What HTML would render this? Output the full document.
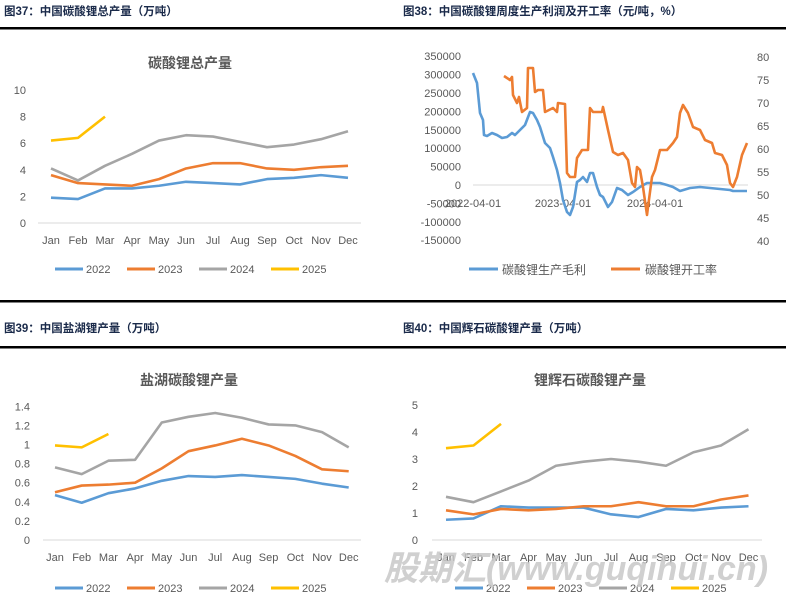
<!DOCTYPE html>
<html><head><meta charset="utf-8"><style>
body{margin:0;background:#fff;width:786px;height:597px;overflow:hidden}
svg{display:block}
text{font-family:"Liberation Sans","Noto Sans CJK SC",sans-serif}
</style></head><body>
<svg id="s" width="786" height="597" xmlns="http://www.w3.org/2000/svg">
<rect width="786" height="597" fill="#fff"/>
<g font-weight="bold" font-size="11.5" fill="#1a2a4a" font-family="'Noto Serif CJK SC','Noto Sans CJK SC',serif">
<text x="4" y="15">图37：中国碳酸锂总产量（万吨）</text>
<text x="403" y="15">图38：中国碳酸锂周度生产利润及开工率（元/吨，%）</text>
<text x="4" y="332">图39：中国盐湖锂产量（万吨）</text>
<text x="403" y="332">图40：中国辉石碳酸锂产量（万吨）</text>
</g>
<rect x="0" y="27" width="786" height="2.5" fill="#000"/>
<rect x="0" y="300" width="786" height="2.5" fill="#000"/>
<rect x="0" y="346" width="786" height="2.5" fill="#000"/>
<g font-weight="bold" font-size="14" fill="#595959" text-anchor="middle">
<text x="190" y="68">碳酸锂总产量</text>
<text x="189" y="385">盐湖碳酸锂产量</text>
<text x="590" y="385">锂辉石碳酸锂产量</text>
</g>
<g id="g"></g>
<text x="576" y="580" text-anchor="middle" font-size="34" font-weight="bold" font-style="italic" fill="#c8c8c8" opacity="0.85" font-family="'Noto Sans CJK SC',sans-serif">股期汇(www.guqihui.cn)</text>
</svg>
<script>
const g=document.getElementById('g');let h='';
const C=['#5b9bd5','#ed7d31','#a5a5a5','#ffc000'];
const M=['Jan','Feb','Mar','Apr','May','Jun','Jul','Aug','Sep','Oct','Nov','Dec'];
function chart(o){
 // grid axis line
 h+=`<line x1="${o.gx1}" x2="${o.gx2}" y1="${o.y0}" y2="${o.y0}" stroke="#d9d9d9" stroke-width="1"/>`;
 for(const t of o.ticks){const y=o.y0-t*o.k;h+=`<text x="${o.lx}" y="${y+4}" font-size="11" fill="#595959" text-anchor="end">${t}</text>`;}
 M.forEach((m,i)=>{h+=`<text x="${o.x0+i*o.dx}" y="${o.y0+21}" font-size="11" fill="#595959" text-anchor="middle">${m}</text>`;});
 o.d.forEach((s,j)=>{h+=`<polyline fill="none" stroke="${C[j]}" stroke-width="2.6" stroke-linejoin="round" points="${s.map((v,i)=>(o.x0+i*o.dx)+','+(o.y0-v*o.k)).join(' ')}"/>`;});
 ['2022','2023','2024','2025'].forEach((n,j)=>{const x=o.legx+j*o.legd;h+=`<line x1="${x}" x2="${x+28}" y1="${o.legy}" y2="${o.legy}" stroke="${C[j]}" stroke-width="3"/><text x="${x+31}" y="${o.legy+4}" font-size="11" fill="#595959">${n}</text>`;});
}
chart({gx1:38,gx2:361,y0:223,k:13.3,lx:26,ticks:[0,2,4,6,8,10],x0:51,dx:27,legx:55,legd:72,legy:269,
 d:[[1.9,1.8,2.6,2.6,2.8,3.1,3.0,2.9,3.3,3.4,3.6,3.4],[3.6,3.0,2.9,2.8,3.3,4.1,4.5,4.5,4.1,4.0,4.2,4.3],[4.1,3.2,4.3,5.2,6.2,6.6,6.5,6.1,5.7,5.9,6.3,6.9],[6.2,6.4,8.0]]});
chart({gx1:43,gx2:361,y0:540,k:95.5,lx:30,ticks:[0,0.2,0.4,0.6,0.8,1,1.2,1.4],x0:55,dx:26.7,legx:55,legd:72,legy:588,
 d:[[.47,.39,.49,.54,.62,.67,.66,.68,.66,.64,.59,.55],[.50,.57,.58,.60,.75,.93,.99,1.06,.99,.88,.74,.72],[.76,.69,.83,.84,1.23,1.29,1.33,1.28,1.21,1.20,1.13,.97],[.99,.97,1.11]]});
chart({gx1:432,gx2:762,y0:540,k:27,lx:418,ticks:[0,1,2,3,4,5],x0:446,dx:27.5,legx:455,legd:72,legy:588,
 d:[[.75,.8,1.25,1.2,1.2,1.2,.95,.85,1.15,1.1,1.2,1.25],[1.1,.95,1.15,1.1,1.15,1.25,1.25,1.4,1.25,1.25,1.5,1.65],[1.6,1.4,1.8,2.2,2.75,2.9,3.0,2.9,2.75,3.25,3.5,4.1],[3.4,3.5,4.3]]});
// chart 2
const y0=185,k=184/500000;
h+=`<line x1="473" x2="748" y1="185" y2="185" stroke="#d9d9d9"/>`;
for(let v=350000;v>=-150000;v-=50000){h+=`<text x="461" y="${y0-v*k+4}" font-size="11" fill="#595959" text-anchor="end">${v}</text>`;}
for(let v=80;v>=40;v-=5){h+=`<text x="757" y="${241-(v-40)*4.6+4}" font-size="11" fill="#595959">${v}</text>`;}
[['2022-04-01',473],['2023-04-01',563],['2024-04-01',655]].forEach(a=>{h+=`<text x="${a[1]}" y="207" font-size="11" fill="#595959" text-anchor="middle">${a[0]}</text>`;});
const B="473,73 477,83 480,113 483,120 484,135 487,136 492,133 497,135 502,138 507,137 512,133 515,135 520,130 525,125 530,112 533,113 537,120 540,127 545,143 550,148 553,157 557,170 560,183 563,200 567,212 570,215 573,207 577,182 580,180 583,177 587,182 590,173 593,173 597,187 600,195 603,197 608,207 612,202 617,188 622,190 628,195 633,192 640,187 647,183 653,183 660,183 667,185 673,187 680,191 690,188 700,187 710,188 720,189 730,190 733,191 747,191";
const O="504,76 510,80 512,77 513,95 517,103 519,97 522,112 527,108 528,68 533,68 535,92 538,90 543,90 545,112 553,108 557,112 558,103 565,104 567,173 570,177 575,177 577,158 582,150 588,150 590,108 593,112 602,112 603,107 608,130 613,152 618,155 623,153 628,160 632,183 635,187 637,167 640,170 643,187 647,215 648,207 652,177 655,170 660,150 667,150 673,143 677,137 680,113 683,105 688,113 693,127 700,130 705,140 712,143 715,153 722,155 727,165 730,183 733,187 737,177 742,155 747,143";
h+=`<polyline fill="none" stroke="#5b9bd5" stroke-width="2.6" stroke-linejoin="round" points="${B}"/>`;
h+=`<polyline fill="none" stroke="#ed7d31" stroke-width="2.6" stroke-linejoin="round" points="${O}"/>`;
h+=`<line x1="469" x2="498" y1="269" y2="269" stroke="#5b9bd5" stroke-width="3"/><text x="502" y="274" font-size="12" fill="#595959">碳酸锂生产毛利</text>`;
h+=`<line x1="611" x2="640" y1="269" y2="269" stroke="#ed7d31" stroke-width="3"/><text x="645" y="274" font-size="12" fill="#595959">碳酸锂开工率</text>`;
g.innerHTML=h;
</script>
</body></html>
